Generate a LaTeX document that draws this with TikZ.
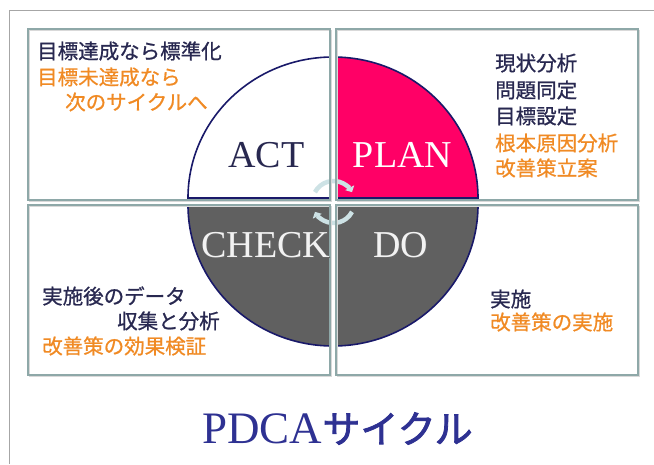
\documentclass[tikz,border=0pt]{standalone}
\usepackage{fontspec}
\setmainfont{Liberation Serif}
\newfontfamily\jp[FakeBold=0.9]{Noto Sans CJK JP}
\newfontfamily\jptitle[FakeBold=2.2]{Noto Sans CJK JP}
\usetikzlibrary{arrows.meta}
\definecolor{navytxt}{RGB}{40,40,80}
\definecolor{orangetxt}{RGB}{240,138,36}
\definecolor{boxline}{RGB}{142,168,168}
\definecolor{circline}{RGB}{25,25,105}
\definecolor{planfill}{RGB}{255,0,102}
\definecolor{dofill}{RGB}{96,96,96}
\definecolor{cyc}{RGB}{205,226,229}
\definecolor{titleblue}{RGB}{46,49,146}
\begin{document}
\begin{tikzpicture}[x=1pt,y=-1pt,
  quadbox/.style={draw=boxline,line width=1.6pt,rectangle,inner sep=0pt,minimum width=302pt},
  shadowbox/.style={draw=black!15,line width=1.6pt,rectangle,inner sep=0pt,minimum width=302pt},
  jtxt/.style={font=\jp\fontsize{20.5}{22}\selectfont,anchor=west,inner sep=0pt},
  dk/.style={jtxt,text=navytxt},
  og/.style={jtxt,text=orangetxt},
  big/.style={font=\fontsize{38}{38}\selectfont,anchor=base,inner sep=0pt},
  cycarrow/.style={draw=cyc,line width=4.5pt,-{Triangle[width=10pt,length=5pt]}}]
\useasboundingbox (0,0) rectangle (654,464);
% outer frame
\draw[black!35,line width=0.8pt] (9,464) -- (9,10) -- (654,10);
% circle quadrants
\fill[white] (333,198) -- (188,198) arc[start angle=180,end angle=90,x radius=145pt,y radius=141pt] -- cycle;
\fill[planfill] (333,198) -- (333,57) arc[start angle=90,end angle=0,x radius=145pt,y radius=141pt] -- cycle;
\fill[dofill] (188,205) arc[start angle=180,end angle=360,x radius=145pt,y radius=141pt] -- cycle;
\draw[circline,line width=1.6pt] (188,198) arc[start angle=180,end angle=0,x radius=145pt,y radius=141pt] -- cycle;
\draw[circline,line width=1.6pt] (188,205) arc[start angle=180,end angle=360,x radius=145pt,y radius=141pt];
% gaps between quadrants
\fill[white] (330,40) rectangle (336,360);
\fill[white] (180,199.5) rectangle (490,204.5);
% cycle arrows
\coordinate (cc) at (333.5,202);
\draw[cycarrow] ([shift={(152:21pt)}]cc) arc[start angle=152,end angle=28,radius=21pt];
\draw[cycarrow] ([shift={(-28:21pt)}]cc) arc[start angle=-28,end angle=-152,radius=21pt];
% boxes (shadow + frame)
\node[shadowbox,minimum height=171pt] (tls) at (180.5,116) {};
\node[shadowbox,minimum height=171pt] (trs) at (488.5,116) {};
\node[shadowbox,minimum height=170pt] (bls) at (180.5,291.5) {};
\node[shadowbox,minimum height=170pt] (brs) at (488.5,291.5) {};
\node[quadbox,minimum height=171pt] (tl) at (179,114.5) {};
\node[quadbox,minimum height=171pt] (tr) at (487,114.5) {};
\node[quadbox,minimum height=170pt] (bl) at (179,290) {};
\node[quadbox,minimum height=170pt] (br) at (487,290) {};
% big labels
\node[big,text=navytxt] (act) at (266.5,167) {ACT};
\node[big,text=white] (plan) at (402.5,167) {PLAN};
\node[big,text=black!60] (checks) at (267,258) {CHECK};
\node[big,text=white!95!black] (check) at (266,257) {CHECK};
\node[big,text=black!60] (dos) at (401.5,258) {DO};
\node[big,text=white!95!black] (do) at (400.5,257) {DO};
% top-left text
\node[dk] (a1) at (37,51) {目標達成なら標準化};
\node[og] (a2) at (37,77) {目標未達成なら};
\node[og] (a3) at (65,102) {次のサイクルへ};
% top-right text
\node[dk] (p1) at (495,63) {現状分析};
\node[dk] (p2) at (495,90) {問題同定};
\node[dk] (p3) at (495,116) {目標設定};
\node[og] (p4) at (495,143) {根本原因分析};
\node[og] (p5) at (495,168) {改善策立案};
% bottom-left text
\node[dk] (c1) at (42,296) {実施後のデータ};
\node[dk] (c2) at (117,321) {収集と分析};
\node[og] (c3) at (42,346) {改善策の効果検証};
% bottom-right text
\node[dk] (d1) at (490,299) {実施};
\node[og] (d2) at (490,322) {改善策の実施};
% title
\node[anchor=base,inner sep=0pt,text=titleblue] (title) at (337.5,443)
  {{\fontsize{45}{45}\selectfont PDCA}{\jptitle\fontsize{38}{38}\selectfont サイクル}};
\end{tikzpicture}
\end{document}
